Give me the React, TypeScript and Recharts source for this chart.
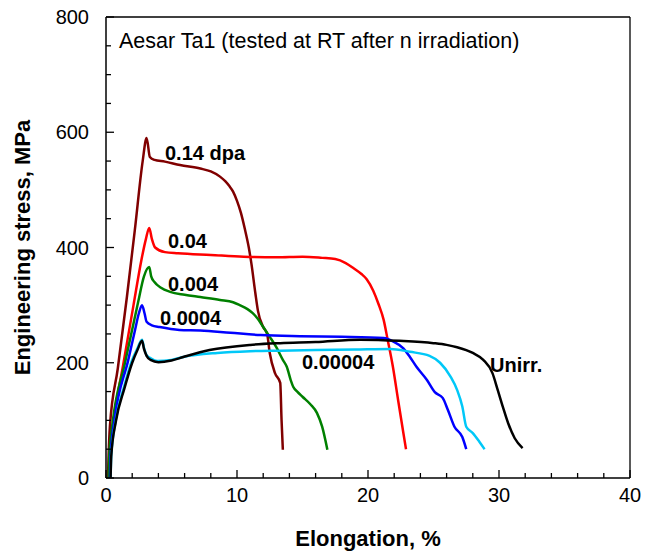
import React from "react";
import {
  LineChart,
  Line,
  XAxis,
  YAxis,
  ReferenceLine,
  ReferenceDot,
} from "recharts";

// elongation (%), engineering stress (MPa)
const dpa014: [number, number][] = [
  [0.15, 0], [0.2, 40], [0.3, 90], [0.9, 190], [1.6, 315], [2.2, 430], [2.8, 550],
  [3.1, 590], [3.35, 557], [3.7, 552], [4.5, 549], [5.65, 543], [7.2, 537],
  [8.0, 532], [8.7, 523], [9.1, 515], [9.4, 507], [9.7, 497], [10.0, 481], [10.3, 460],
  [10.6, 432], [10.9, 400], [11.1, 372], [11.4, 321], [11.6, 290], [12.0, 262], [12.3, 250],
  [12.5, 217], [12.9, 182], [13.3, 165], [13.4, 101], [13.5, 49],
];

const dpa004: [number, number][] = [
  [0.25, 0], [0.3, 40], [0.55, 95], [1.3, 195], [2.1, 300], [2.7, 378], [3.05, 415],
  [3.3, 434], [3.5, 415], [3.75, 400], [4.5, 392], [5.5, 390], [8.0, 387], [10.5, 384],
  [13.0, 383], [15.0, 384], [16.5, 382], [17.5, 380], [18.3, 373], [18.9, 364], [19.5, 354],
  [19.9, 345], [20.4, 325], [20.8, 302], [21.2, 274], [21.5, 240], [21.9, 193], [22.3, 135],
  [22.7, 78], [22.9, 50],
];

const dpa0004: [number, number][] = [
  [0.2, 0], [0.25, 40], [0.5, 95], [1.45, 200], [2.45, 305], [2.9, 350], [3.3, 366],
  [3.45, 350], [3.7, 340], [4.2, 330], [4.9, 323], [6.0, 318], [7.2, 314], [8.7, 309],
  [9.7, 305], [10.2, 300], [10.8, 293], [11.2, 286], [11.6, 276], [12.0, 262], [12.5, 245],
  [13.0, 227], [13.5, 205], [13.8, 193], [14.1, 170], [14.3, 158], [14.6, 150], [15.0, 141],
  [15.6, 128], [16.1, 113], [16.5, 89], [16.9, 49],
];

const dpa00004: [number, number][] = [
  [0.3, 0], [0.35, 40], [0.65, 101], [1.7, 205], [2.2, 255], [2.5, 285], [2.75, 300],
  [2.95, 285], [3.1, 271], [3.5, 265], [4.1, 262], [5.6, 257], [7.2, 256], [9.5, 252],
  [11.8, 248], [14.8, 246], [18.0, 245], [21.2, 243], [21.9, 237], [22.7, 225], [23.2, 210],
  [23.7, 193], [24.5, 170], [25.1, 149], [25.7, 139], [26.1, 118], [26.6, 89], [27.2, 71],
  [27.5, 50],
];

const dpa000004: [number, number][] = [
  [0.35, 0], [0.4, 40], [0.75, 101], [1.4, 160], [2.0, 205], [2.4, 225], [2.75, 240],
  [2.9, 226], [3.1, 213], [3.4, 208], [3.9, 203], [5.0, 205], [5.9, 210], [8.5, 217],
  [11.0, 220], [13.3, 221], [16.0, 222], [19.0, 223], [21.7, 224], [23.2, 219], [24.7, 212],
  [25.5, 200], [26.3, 176], [26.8, 153], [27.2, 124], [27.5, 89], [28.0, 78], [28.5, 63],
  [28.9, 50],
];

const unirr: [number, number][] = [
  [0.35, 0], [0.4, 38], [0.75, 98], [1.4, 155], [2.0, 200], [2.4, 222], [2.75, 238],
  [2.9, 224], [3.1, 212], [3.4, 205], [4.0, 201], [5.0, 204], [5.9, 210], [7.9, 222],
  [11.0, 231], [13.3, 234], [16.0, 236], [19.4, 240], [22.4, 238], [25.0, 234], [26.0, 231],
  [26.8, 227], [28.0, 217], [28.8, 205], [29.5, 182], [29.9, 153], [30.3, 123], [30.7, 95],
  [31.2, 69], [31.8, 52],
];

const xTicks = [0, 2, 4, 6, 8, 10, 12, 14, 16, 18, 20, 22, 24, 26, 28, 30, 32, 34, 36, 38, 40];
const yTicks = [0, 50, 100, 150, 200, 250, 300, 350, 400, 450, 500, 550, 600, 650, 700, 750, 800];

const series = [
  { name: "0.14 dpa", points: dpa014, color: "#800000" },
  { name: "0.04", points: dpa004, color: "#ff0000" },
  { name: "0.004", points: dpa0004, color: "#008000" },
  { name: "0.0004", points: dpa00004, color: "#0000ff" },
  { name: "0.00004", points: dpa000004, color: "#00c8f8" },
  { name: "Unirr.", points: unirr, color: "#000000" },
];

// where each curve's label sits (x %, y MPa)
const curveLabels: { text: string; x: number; y: number }[] = [
  { text: "0.14 dpa", x: 4.12, y: 564 },
  { text: "0.04", x: 4.35, y: 411 },
  { text: "0.004", x: 4.35, y: 337 },
  { text: "0.0004", x: 3.74, y: 278 },
  { text: "0.00004", x: 14.58, y: 201 },
  { text: "Unirr.", x: 28.93, y: 196 },
];

const FONT = '"Liberation Sans", Arial, sans-serif';

const XTick = (props: any) => {
  const { x, y, payload } = props;
  const major = payload.value % 10 === 0;
  return (
    <g>
      <line x1={x} x2={x} y1={y} y2={y - (major ? 8 : 5)} stroke="#000" strokeWidth={1.3} />
      {major && (
        <text x={x} y={y + 24} textAnchor="middle" fontSize={20} fontFamily={FONT} fill="#000">
          {payload.value}
        </text>
      )}
    </g>
  );
};

const YTick = (props: any) => {
  const { x, y, payload } = props;
  const major = payload.value % 200 === 0;
  return (
    <g>
      <line x1={x} x2={x + (major ? 8 : 5)} y1={y} y2={y} stroke="#000" strokeWidth={1.3} />
      {major && (
        <text x={x - 17} y={y + 7} textAnchor="end" fontSize={20} fontFamily={FONT} fill="#000">
          {payload.value}
        </text>
      )}
    </g>
  );
};

export default function App() {
  return (
    <div style={{ position: "absolute", left: 0, top: 0, width: 645, height: 554, background: "#fff" }}>
      <LineChart width={645} height={554} margin={{ top: 17, right: 15, left: 0, bottom: 0 }}>
        <XAxis
          type="number"
          dataKey="x"
          domain={[0, 40]}
          ticks={xTicks}
          interval={0}
          tickSize={0}
          tickMargin={0}
          tick={<XTick />}
          height={76}
          axisLine={{ stroke: "#000", strokeWidth: 1.5 }}
          allowDataOverflow
          label={{
            value: "Elongation, %",
            position: "insideBottom",
            offset: 8,
            fontSize: 22,
            fontWeight: 700,
            fontFamily: FONT,
            fill: "#000",
          }}
        />
        <YAxis
          type="number"
          domain={[0, 800]}
          ticks={yTicks}
          interval={0}
          tickSize={0}
          tickMargin={0}
          tick={<YTick />}
          width={106}
          axisLine={{ stroke: "#000", strokeWidth: 1.5 }}
          allowDataOverflow
          label={{
            value: "Engineering stress, MPa",
            angle: -90,
            position: "insideLeft",
            offset: 22,
            fontSize: 22,
            fontWeight: 700,
            fontFamily: FONT,
            fill: "#000",
            style: { textAnchor: "middle" },
          }}
        />
        <ReferenceLine y={800} stroke="#000" strokeWidth={1.3} />
        <ReferenceLine x={40} stroke="#000" strokeWidth={1.3} />
        {series.map((s) => (
          <Line
            key={s.name}
            name={s.name}
            data={s.points.map(([x, y]) => ({ x, y }))}
            dataKey="y"
            type="monotone"
            stroke={s.color}
            strokeWidth={2.5}
            dot={false}
            activeDot={false}
            isAnimationActive={false}
          />
        ))}
        {curveLabels.map((l) => (
          <ReferenceDot
            key={l.text}
            x={l.x}
            y={l.y}
            r={0}
            stroke="none"
            fill="none"
            label={{
              value: l.text,
              position: "right",
              offset: 5,
              fontSize: 20,
              fontWeight: 700,
              fontFamily: FONT,
              fill: "#000",
            }}
          />
        ))}
        <ReferenceDot
          x={0.61}
          y={760}
          r={0}
          stroke="none"
          fill="none"
          label={{
            value: "Aesar Ta1 (tested at RT after n irradiation)",
            position: "right",
            offset: 5,
            fontSize: 21.5,
            fontFamily: FONT,
            fill: "#000",
          }}
        />
      </LineChart>
    </div>
  );
}
